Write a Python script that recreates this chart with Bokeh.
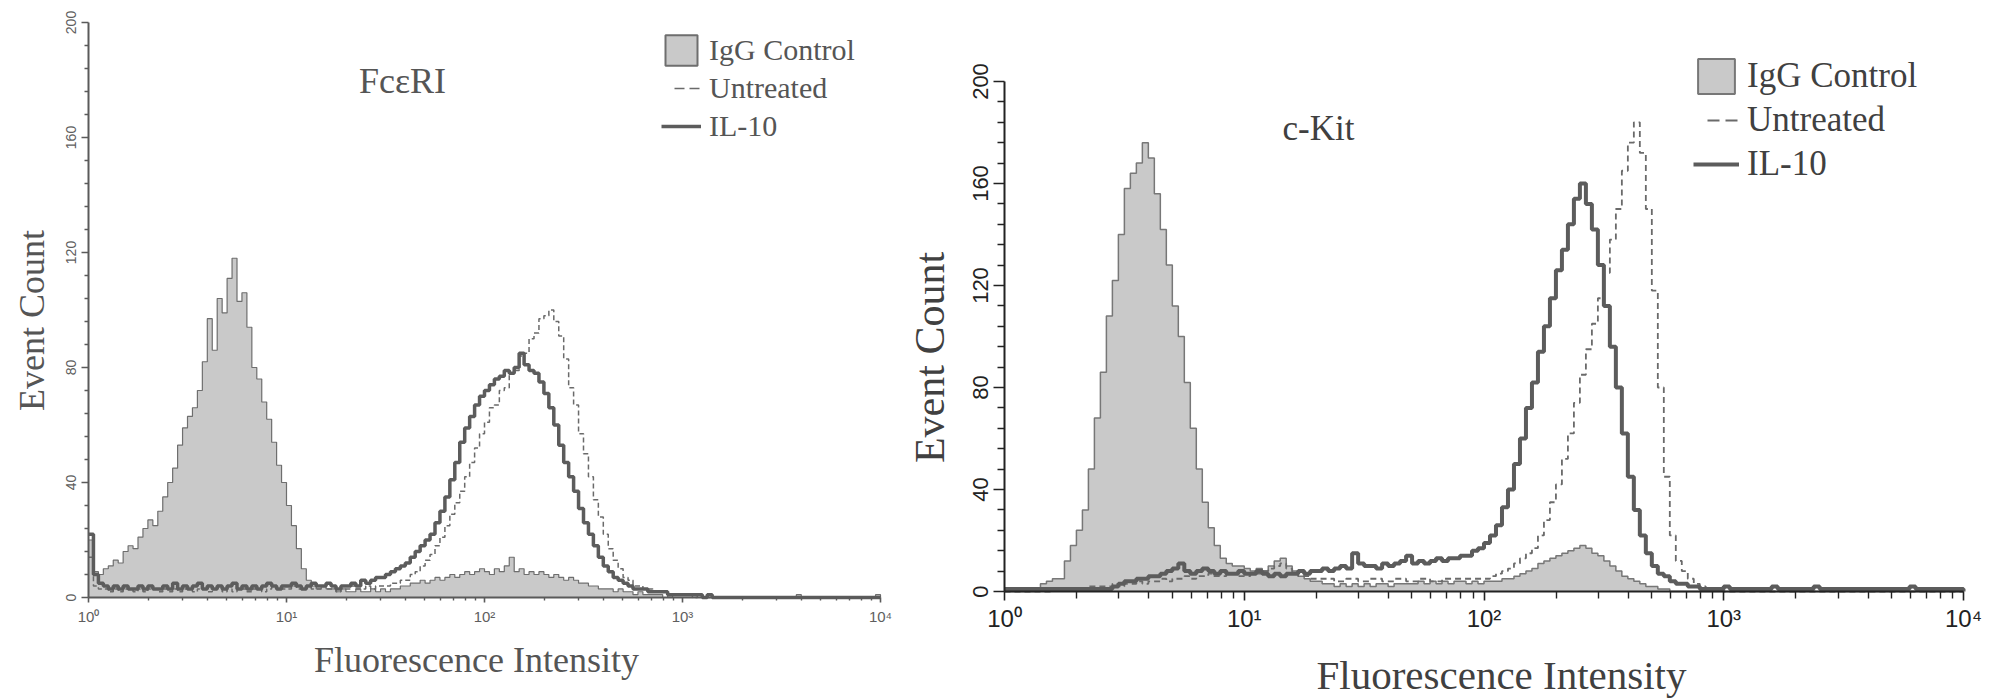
import math
from bokeh.plotting import figure
from bokeh.layouts import row
from bokeh.models import Range1d, FixedTicker, CustomJSTickFormatter, Label, Legend, LegendItem
from bokeh.embed import file_html
from bokeh.resources import INLINE

# ---------------- data (event counts per channel, channel width = 0.025 decade, 10^0 .. 10^4) ----------------
STEP = 0.025
N_CH = 160

fc_igg = [
    20, 9, 8, 10, 11, 13, 12, 16, 18, 17, 21, 24, 27, 25, 30, 35, 40, 45, 53, 59,
    63, 66, 72, 82, 97, 86, 104, 99, 111, 118, 103, 106, 94, 80, 76, 68, 62, 54, 46, 40,
    32, 25, 17, 10, 6, 4, 3, 4, 3, 3, 2, 3, 2, 2, 3, 2, 2, 3, 2, 3,
    2, 3, 3, 4, 4, 5, 5, 6, 5, 6, 7, 6, 7, 8, 7, 8, 9, 8, 9, 10,
    9, 8, 10, 9, 11, 14, 9, 10, 8, 9, 8, 9, 8, 7, 8, 7, 6, 7, 6, 5,
    5, 4, 4, 3, 3, 3, 2, 3, 2, 2, 1, 2, 1, 1, 1, 1, 0, 1, 0, 0,
    0, 0, 0, 0, 0, 0, 0, 0, 0, 0, 0, 0, 0, 0, 0, 0, 0, 0, 0, 0,
    0, 0, 0, 1, 0, 0, 0, 0, 0, 0, 0, 0, 0, 0, 0, 0, 0, 0, 0, 1,
]
fc_untreated = [
    14, 4, 3, 3, 2, 3, 2, 3, 3, 2, 3, 2, 3, 3, 2, 3, 2, 3, 2, 3,
    3, 2, 3, 3, 2, 3, 3, 2, 3, 2, 3, 3, 2, 3, 3, 2, 3, 4, 3, 3,
    3, 4, 3, 3, 4, 3, 3, 4, 3, 3, 2, 3, 3, 4, 3, 3, 4, 3, 4, 4,
    4, 5, 5, 6, 6, 8, 9, 11, 13, 15, 18, 21, 25, 29, 33, 37, 42, 47, 52, 57,
    61, 66, 67, 72, 73, 78, 79, 84, 85, 90, 92, 97, 98, 100, 96, 91, 83, 73, 67, 57,
    50, 42, 34, 28, 22, 17, 13, 10, 7, 6, 4, 4, 3, 3, 2, 2, 2, 1, 1, 1,
    1, 1, 0, 1, 0, 0, 0, 0, 0, 0, 0, 0, 0, 0, 0, 0, 0, 0, 0, 0,
    0, 0, 0, 0, 0, 0, 0, 0, 0, 0, 0, 0, 0, 0, 0, 0, 0, 0, 0, 0,
]
fc_il10 = [
    22, 8, 5, 4, 3, 4, 3, 4, 3, 3, 4, 3, 4, 3, 3, 4, 3, 5, 3, 4,
    3, 4, 5, 3, 4, 3, 4, 3, 4, 5, 3, 4, 3, 4, 3, 4, 5, 4, 3, 4,
    4, 5, 4, 3, 4, 5, 4, 4, 5, 4, 3, 4, 4, 5, 4, 6, 5, 6, 7, 7,
    8, 9, 10, 11, 12, 14, 16, 18, 20, 22, 26, 30, 35, 41, 47, 54, 59, 63, 67, 70,
    72, 74, 76, 77, 79, 78, 80, 85, 81, 79, 78, 75, 71, 66, 60, 53, 47, 42, 37, 31,
    26, 22, 18, 14, 11, 9, 7, 6, 5, 4, 3, 3, 3, 2, 2, 2, 2, 1, 1, 1,
    1, 1, 1, 1, 0, 1, 0, 0, 0, 0, 0, 0, 0, 0, 0, 0, 0, 0, 0, 0,
    0, 0, 0, 0, 0, 0, 0, 0, 0, 0, 0, 0, 0, 0, 0, 0, 0, 0, 0, 0,
]

kit_igg = [
    0, 0, 0, 0, 0, 1, 3, 4, 5, 5, 12, 18, 24, 32, 48, 68, 86, 108, 122, 140,
    158, 164, 168, 176, 170, 156, 142, 128, 112, 100, 82, 64, 48, 35, 25, 18, 13, 11, 10, 10,
    9, 8, 9, 8, 10, 12, 13, 10, 8, 6, 5, 4, 4, 3, 3, 2, 3, 2, 3, 2,
    3, 2, 3, 3, 2, 3, 3, 3, 3, 4, 3, 4, 3, 4, 3, 4, 4, 3, 4, 3,
    4, 4, 4, 5, 5, 6, 7, 8, 9, 11, 12, 13, 14, 15, 16, 17, 18, 17, 15, 14,
    12, 10, 8, 6, 5, 4, 3, 2, 2, 1, 1, 0, 0, 0, 0, 0, 0, 0, 0, 0,
    0, 0, 0, 0, 0, 0, 0, 0, 0, 0, 0, 0, 0, 0, 0, 0, 0, 0, 0, 0,
    0, 0, 0, 0, 0, 0, 0, 0, 0, 0, 0, 0, 0, 0, 0, 0, 0, 0, 0, 0,
]
kit_untreated = [
    0, 0, 0, 0, 0, 0, 0, 0, 1, 1, 1, 1, 1, 1, 2, 2, 2, 2, 3, 2,
    3, 3, 4, 3, 4, 4, 5, 4, 5, 5, 6, 5, 6, 6, 7, 6, 6, 7, 7, 6,
    6, 7, 7, 8, 9, 10, 11, 9, 7, 6, 6, 5, 5, 5, 5, 4, 4, 5, 5, 4,
    4, 5, 5, 4, 4, 5, 5, 4, 4, 5, 5, 4, 4, 5, 5, 5, 5, 5, 5, 5,
    5, 6, 7, 8, 9, 11, 13, 15, 17, 22, 28, 35, 42, 52, 62, 74, 85, 95, 105, 115,
    125, 138, 150, 165, 176, 184, 172, 150, 118, 80, 45, 22, 12, 8, 5, 3, 2, 1, 1, 1,
    0, 0, 0, 0, 0, 0, 0, 0, 0, 0, 0, 0, 0, 0, 0, 0, 0, 0, 0, 0,
    0, 0, 0, 0, 0, 0, 0, 0, 0, 0, 0, 0, 0, 0, 0, 0, 0, 0, 0, 0,
]
kit_il10 = [
    1, 1, 1, 1, 1, 1, 1, 1, 1, 1, 1, 1, 1, 1, 1, 1, 1, 1, 2, 3,
    4, 4, 5, 5, 6, 6, 7, 8, 9, 11, 8, 7, 8, 9, 8, 7, 8, 7, 7, 8,
    7, 7, 8, 7, 6, 7, 6, 7, 7, 8, 7, 8, 8, 9, 8, 9, 10, 9, 15, 11,
    10, 10, 9, 11, 10, 11, 12, 14, 11, 12, 11, 12, 13, 12, 13, 13, 14, 14, 16, 17,
    19, 22, 26, 33, 40, 50, 60, 72, 82, 94, 104, 115, 126, 134, 144, 154, 160, 152, 142, 128,
    112, 96, 80, 62, 45, 32, 22, 15, 10, 7, 6, 4, 3, 3, 2, 2, 1, 1, 1, 1,
    2, 1, 1, 1, 1, 1, 1, 1, 2, 1, 1, 1, 1, 1, 1, 2, 1, 1, 1, 1,
    1, 1, 1, 1, 1, 1, 1, 1, 1, 1, 1, 2, 1, 1, 1, 1, 1, 1, 1, 1,
]

y_ticks = [0, 40, 80, 120, 160, 200]
x_ticks = [1, 10, 100, 1000, 10000]
titles = ["Fc\u03b5RI", "c-Kit"]
legend_labels = ["IgG Control", "Untreated", "IL-10"]
x_title = "Fluorescence Intensity"
y_title = "Event Count"

# ---------------- helpers ----------------
edges = [10 ** (i * STEP) for i in range(N_CH + 1)]
y_minor = [v for v in range(0, 201, 8) if v % 40]
x_minor = [m * 10 ** d for d in range(4) for m in range(2, 10)]

SUP = CustomJSTickFormatter(code="""
const sup = ['\\u2070', '\\u00b9', '\\u00b2', '\\u00b3', '\\u2074'];
const e = Math.round(Math.log10(tick));
return '10' + sup[e];
""")

H = 698


def make_panel(igg, unt, il10, title, st):
    x0page, W = st["page_x"], st["width"]
    fx0, fx1, fy0, fy1 = st["box"]          # page px of 10^0, 10^4, count 0, count 200
    dec = (fx1 - fx0) / 4.0
    ppu = (fy0 - fy1) / 200.0
    xr = Range1d(10 ** ((x0page - fx0) / dec), 10 ** ((x0page + W - fx0) / dec))
    yr = Range1d((fy0 - H) / ppu, fy0 / ppu)

    def dx(px):
        return 10 ** ((px - fx0) / dec)

    def dy(py):
        return (fy0 - py) / ppu

    p = figure(width=W, height=H, x_axis_type="log", x_range=xr, y_range=yr,
               output_backend="svg", toolbar_location=None,
               min_border_left=0, min_border_right=0, min_border_top=0, min_border_bottom=0)
    p.title.visible = False
    p.outline_line_color = None
    p.grid.visible = False
    p.background_fill_color = "white"
    p.border_fill_color = "white"

    xa = p.xaxis[0]
    ya = p.yaxis[0]
    xa.fixed_location = 0
    ya.fixed_location = 1
    xa.bounds = (1, 10000)
    ya.bounds = (0, 200)
    xa.ticker = FixedTicker(ticks=x_ticks, minor_ticks=x_minor)
    xa.formatter = SUP
    ya.ticker = FixedTicker(ticks=y_ticks, minor_ticks=y_minor)
    for ax in (xa, ya):
        ax.axis_line_color = st["axis_color"]
        ax.axis_line_width = 2
        ax.major_tick_line_color = st["axis_color"]
        ax.minor_tick_line_color = st["axis_color"]
        ax.major_tick_line_width = 1.6
        ax.minor_tick_line_width = 1.4
        ax.major_tick_in = 0
        ax.minor_tick_in = 0
        ax.major_label_text_font = "Liberation Sans"
        ax.major_label_text_color = st["tick_color"]
    xa.major_tick_out, xa.minor_tick_out = st["xtick_out"]
    ya.major_tick_out, ya.minor_tick_out = st["ytick_out"]
    xa.major_label_text_font_size = st["xtick_font"]
    ya.major_label_text_font_size = st["ytick_font"]
    xa.major_label_standoff = st["xtick_standoff"]
    ya.major_label_standoff = st["ytick_standoff"]
    ya.major_label_orientation = "vertical"

    xs = edges
    p.varea_step(x=xs, y1=[0] * len(xs), y2=igg + [0], step_mode="after", fill_color=st["fill"])
    p.step(xs, igg + [0], mode="after", line_color=st["fill_edge"], line_width=st["edge_w"])
    p.step(xs, unt + [0], mode="after", line_color=st["dash_color"],
           line_width=st["dash_w"], line_dash=st["dash"])
    r_il = p.step(xs, il10 + [0], mode="after", line_color=st["il_color"], line_width=st["il_w"])

    # legend proxies: same data, hidden in the plot, only used to draw the legend swatches
    r_box = p.quad(left=edges[:-1], right=edges[1:], bottom=0, top=igg,
                   fill_color=st["fill"], line_color=st["fill_edge"], line_width=2, visible=False)
    r_unt_key = p.step(xs, unt + [0], mode="after", line_color=st["dash_color"],
                       line_width=st["dash_w"], line_dash=st["legend_dash"], visible=False)

    gw, gh = st["glyph"]
    lx, ly = st["legend_px"]
    legend = Legend(items=[LegendItem(label=legend_labels[0], renderers=[r_box]),
                           LegendItem(label=legend_labels[1], renderers=[r_unt_key]),
                           LegendItem(label=legend_labels[2], renderers=[r_il])],
                    location=(lx - x0page, H - ly - 3 * gh),
                    glyph_width=gw, glyph_height=gh, spacing=0, padding=0, margin=0,
                    label_standoff=st["legend_standoff"], border_line_color=None,
                    background_fill_alpha=0, inactive_fill_alpha=0,
                    label_text_font="Liberation Serif",
                    label_text_font_size=st["legend_font"],
                    label_text_color=st["text_color"])
    p.add_layout(legend)

    def corr(size):
        return round(0.31 * int(size.rstrip("px")))

    tx, ty, tf = st["title_px"]
    p.add_layout(Label(x=dx(tx), y=dy(ty - corr(tf)), text=title, text_align="center",
                       text_baseline="alphabetic", text_font="Liberation Serif",
                       text_font_size=tf, text_color=st["text_color"]))
    xx, xy, xf = st["xlabel_px"]
    p.add_layout(Label(x=dx(xx), y=dy(xy - corr(xf)), text=x_title, text_align="center",
                       text_baseline="alphabetic", text_font="Liberation Serif",
                       text_font_size=xf, text_color=st["text_color"]))
    yx, yy, yf = st["ylabel_px"]
    p.add_layout(Label(x=dx(yx - corr(yf)), y=dy(yy), text=y_title, text_align="center",
                       text_baseline="alphabetic", angle=math.pi / 2,
                       text_font="Liberation Serif", text_font_size=yf,
                       text_color=st["text_color"]))
    return p


left_style = dict(
    page_x=0, width=898, box=(88, 880, 597, 22),
    axis_color="#5a5a5a", tick_color="#5e5e5e",
    xtick_out=(5, 3), ytick_out=(7, 4),
    xtick_font="15px", ytick_font="14px", xtick_standoff=5, ytick_standoff=6,
    fill="#c9c9c9", fill_edge="#6e6e6e", edge_w=1.2,
    dash_color="#6a6a6a", dash_w=1.5, dash="5 3", legend_dash="0 13 10 5 10 60",
    il_color="#5c5c5c", il_w=3.5,
    text_color="#555555",
    glyph=(40, 38), legend_px=(661, 31), legend_font="30px", legend_standoff=8,
    title_px=(402, 91, "36px"), xlabel_px=(476, 670, "36px"), ylabel_px=(42, 320, "36px"),
)
right_style = dict(
    page_x=898, width=1098, box=(1004, 1963, 591, 81),
    axis_color="#222222", tick_color="#222222",
    xtick_out=(9, 7), ytick_out=(11, 7),
    xtick_font="24px", ytick_font="22px", xtick_standoff=4, ytick_standoff=6,
    fill="#c9c9c9", fill_edge="#777777", edge_w=1.5,
    dash_color="#6a6a6a", dash_w=1.8, dash="6 4", legend_dash="0 14 12 6 12 60",
    il_color="#5c5c5c", il_w=4,
    text_color="#404040",
    glyph=(46, 44), legend_px=(1693, 54), legend_font="35px", legend_standoff=8,
    title_px=(1318, 139, "35px"), xlabel_px=(1501, 687, "41px"), ylabel_px=(942, 357, "42px"),
)

p1 = make_panel(fc_igg, fc_untreated, fc_il10, titles[0], left_style)
p2 = make_panel(kit_igg, kit_untreated, kit_il10, titles[1], right_style)

layout = row(p1, p2)
open("out.html", "w").write(file_html(layout, INLINE))
